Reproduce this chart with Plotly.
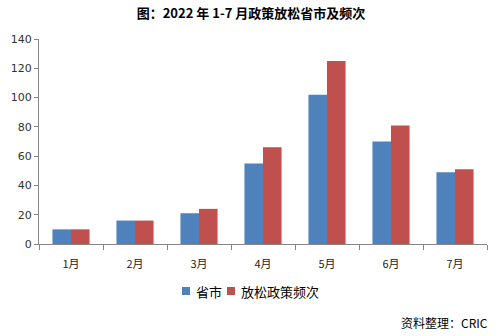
import plotly.graph_objects as go

months = ["1月", "2月", "3月", "4月", "5月", "6月", "7月"]
provinces = [10, 16, 21, 55, 102, 70, 49]
policy_counts = [10, 16, 24, 66, 125, 81, 51]
y_ticks = [0, 20, 40, 60, 80, 100, 120, 140]
series_names = ["省市", "放松政策频次"]

BLUE = "#4F81BD"
RED = "#C0504D"
AXIS = "#868686"
CJK = "Noto Sans CJK SC"

# plot area in pixels: x 39..487, y 39..244
PL, PW, PT, PH = 39, 448, 39, 205


def px_x(x):
    return (x - PL) / PW


def px_y(y):
    return (PT + PH - y) / PH


fig = go.Figure()
fig.add_trace(go.Bar(name=series_names[0], x=months, y=provinces,
                     marker=dict(color=BLUE, line=dict(width=0))))
fig.add_trace(go.Bar(name=series_names[1], x=months, y=policy_counts,
                     marker=dict(color=RED, line=dict(width=0))))

fig.update_layout(
    width=502, height=336,
    margin=dict(l=PL, r=502 - PL - PW, t=PT, b=336 - PT - PH),
    paper_bgcolor="white", plot_bgcolor="white",
    barmode="group", bargap=0.42, bargroupgap=0,
    title=dict(
        text="<b>图：2022 年 1-7 月政策放松省市及频次</b>",
        x=0.5, xanchor="center", y=1 - 13 / 336, yanchor="middle",
        font=dict(family=CJK, size=13, color="#000000"),
    ),
    showlegend=False,
)

fig.update_xaxes(
    type="category", showgrid=False, showline=True, linecolor=AXIS, linewidth=1,
    ticks="outside", tickson="boundaries", ticklen=5, tickcolor=AXIS,
    ticklabelstandoff=10,
    tickfont=dict(family=CJK, size=11, color="#222222"),
)
fig.update_yaxes(
    range=[0, 140], tickvals=y_ticks, showgrid=False, zeroline=False,
    showline=True, linecolor=AXIS, linewidth=1,
    ticks="outside", ticklen=4, tickcolor=AXIS,
    tickfont=dict(family="DejaVu Sans", size=11, color="#333333"),
)

# legend row: colour swatch followed by series name
legend_y = px_y(291)
for swatch_x, text_x, color, name in [(186, 194, BLUE, series_names[0]),
                                      (231, 239, RED, series_names[1])]:
    fig.add_shape(type="rect", xref="paper", yref="paper",
                  x0=px_x(swatch_x - 4), x1=px_x(swatch_x + 4),
                  y0=px_y(295), y1=px_y(287),
                  fillcolor=color, line=dict(width=0))
    fig.add_annotation(text=name, xref="paper", yref="paper",
                       x=px_x(text_x), xanchor="left", y=legend_y, yanchor="middle",
                       showarrow=False, font=dict(family=CJK, size=13, color="#000000"))

fig.add_annotation(
    text="资料整理：CRIC", xref="paper", yref="paper",
    x=px_x(490), xanchor="right", y=px_y(322), yanchor="middle",
    showarrow=False, font=dict(family=CJK, size=12, color="#000000"),
)

fig.write_html("out.html")
